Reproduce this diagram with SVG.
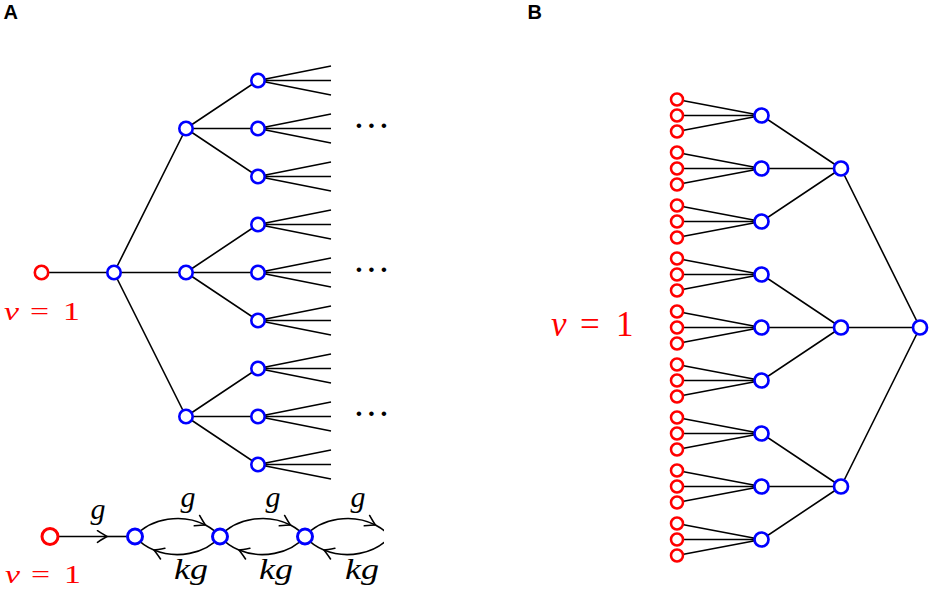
<svg xmlns="http://www.w3.org/2000/svg" width="935" height="596" viewBox="0 0 935 596">
<style>
.ln{fill:none;stroke:#000;stroke-width:1.6}
.rA{fill:#fff;stroke:#f00;stroke-width:2.6}
.bA{fill:#fff;stroke:#00f;stroke-width:2.6}
.rB{fill:#fff;stroke:#f00;stroke-width:2.5}
.bB{fill:#fff;stroke:#00f;stroke-width:2.7}
.rC{fill:#fff;stroke:#f00;stroke-width:3}
.bC{fill:#fff;stroke:#00f;stroke-width:3}
.lab{font-family:"Liberation Sans",Arial,sans-serif;font-weight:bold;font-size:20px;fill:#000}
.m{font-family:"Liberation Serif","Times New Roman",serif;font-style:italic;font-size:30px;fill:#000}
.v{font-family:"Liberation Serif","Times New Roman",serif;fill:#f00}
.dots{font-family:"Liberation Serif","Times New Roman",serif;font-size:28px;fill:#000;font-weight:bold}
</style>
<defs>
<marker id="arr" viewBox="-11 -7 13 14" markerWidth="13" markerHeight="14" refX="0" refY="0" orient="auto" markerUnits="userSpaceOnUse">
<path d="M-9.5,-5.8 Q-3,-1.5 0,0 Q-3,1.5 -9.5,5.8" fill="none" stroke="#000" stroke-width="1.6" stroke-linecap="round"/>
</marker>
<clipPath id="clipC"><rect x="0" y="480" width="384" height="116"/></clipPath>
</defs>

<text class="lab" x="3.5" y="19">A</text>
<text class="lab" x="527.5" y="18.5">B</text>

<g id="connectors">
<path class="ln" d="M41.5,272.5 H114 M114,272.5 L186,128.5 M114,272.5 H186 M114,272.5 L186,416.5
M186,128.5 L258,80.5 M186,128.5 H258 M186,128.5 L258,176.5
M186,272.5 L258,224.5 M186,272.5 H258 M186,272.5 L258,320.5
M186,416.5 L258,368.5 M186,416.5 H258 M186,416.5 L258,464.5"/>
<path class="ln" d="M258,80.5 L331,66 M258,80.5 H331 M258,80.5 L331,95
M258,128.5 L331,114 M258,128.5 H331 M258,128.5 L331,143
M258,176.5 L331,162 M258,176.5 H331 M258,176.5 L331,191
M258,224.5 L331,210 M258,224.5 H331 M258,224.5 L331,239
M258,272.5 L331,258 M258,272.5 H331 M258,272.5 L331,287
M258,320.5 L331,306 M258,320.5 H331 M258,320.5 L331,335
M258,368.5 L331,354 M258,368.5 H331 M258,368.5 L331,383
M258,416.5 L331,402 M258,416.5 H331 M258,416.5 L331,431
M258,464.5 L331,450 M258,464.5 H331 M258,464.5 L331,479"/>
<path class="ln" d="M677,99.5 L761.5,115.5 M677,115.5 H761.5 M677,131.5 L761.5,115.5
M677,152.5 L761.5,168.5 M677,168.5 H761.5 M677,184.5 L761.5,168.5
M677,205.5 L761.5,221.5 M677,221.5 H761.5 M677,237.5 L761.5,221.5
M677,258.5 L761.5,274.5 M677,274.5 H761.5 M677,290.5 L761.5,274.5
M677,311.5 L761.5,327.5 M677,327.5 H761.5 M677,343.5 L761.5,327.5
M677,364.5 L761.5,380.5 M677,380.5 H761.5 M677,396.5 L761.5,380.5
M677,417.5 L761.5,433.5 M677,433.5 H761.5 M677,449.5 L761.5,433.5
M677,470.5 L761.5,486.5 M677,486.5 H761.5 M677,502.5 L761.5,486.5
M677,523.5 L761.5,539.5 M677,539.5 H761.5 M677,555.5 L761.5,539.5"/>
<path class="ln" d="M761.5,115.5 L841,168.5 M761.5,168.5 H841 M761.5,221.5 L841,168.5
M761.5,274.5 L841,327.5 M761.5,327.5 H841 M761.5,380.5 L841,327.5
M761.5,433.5 L841,486.5 M761.5,486.5 H841 M761.5,539.5 L841,486.5
M841,168.5 L920,327.5 M841,327.5 H920 M841,486.5 L920,327.5"/>
<g clip-path="url(#clipC)">
<path class="ln" d="M50,536.5 H107" marker-end="url(#arr)"/>
<path class="ln" d="M107,536.5 H135"/>
<path class="ln" d="M135,536.5 c16,-19.2 48,-23.04 70.4,-11.52" marker-end="url(#arr)"/>
<path class="ln" d="M205.4,524.98 c5.6,2.88 10.6,6.72 14.6,11.52"/>
<path class="ln" d="M220,536.5 c-15,18 -44.06,22.5 -66.1,13.5" marker-end="url(#arr)"/>
<path class="ln" d="M153.9,550 c-7.34,-3 -13.9,-7.5 -18.9,-13.5"/>
<path class="ln" d="M220,536.5 c16,-19.2 48,-23.04 70.4,-11.52" marker-end="url(#arr)"/>
<path class="ln" d="M290.4,524.98 c5.6,2.88 10.6,6.72 14.6,11.52"/>
<path class="ln" d="M305,536.5 c-15,18 -44.06,22.5 -66.1,13.5" marker-end="url(#arr)"/>
<path class="ln" d="M238.9,550 c-7.34,-3 -13.9,-7.5 -18.9,-13.5"/>
<path class="ln" d="M305,536.5 c16,-19.2 48,-23.04 70.4,-11.52" marker-end="url(#arr)"/>
<path class="ln" d="M375.4,524.98 c5.6,2.88 10.6,6.72 14.6,11.52"/>
<path class="ln" d="M390,536.5 c-15,18 -44.06,22.5 -66.1,13.5" marker-end="url(#arr)"/>
<path class="ln" d="M323.9,550 c-7.34,-3 -13.9,-7.5 -18.9,-13.5"/>
</g>
</g>

<g id="treeA">
<g id="a0"><circle class="rA" cx="41.5" cy="272.5" r="6.7"/></g>
<g id="a1"><circle class="bA" cx="114" cy="272.5" r="6.7"/></g>
<g id="a2-0"><circle class="bA" cx="186" cy="128.5" r="6.7"/></g>
<g id="a2-1"><circle class="bA" cx="186" cy="272.5" r="6.7"/></g>
<g id="a2-2"><circle class="bA" cx="186" cy="416.5" r="6.7"/></g>
<g id="a3-0"><circle class="bA" cx="258" cy="80.5" r="6.7"/></g>
<g id="a3-1"><circle class="bA" cx="258" cy="128.5" r="6.7"/></g>
<g id="a3-2"><circle class="bA" cx="258" cy="176.5" r="6.7"/></g>
<g id="a3-3"><circle class="bA" cx="258" cy="224.5" r="6.7"/></g>
<g id="a3-4"><circle class="bA" cx="258" cy="272.5" r="6.7"/></g>
<g id="a3-5"><circle class="bA" cx="258" cy="320.5" r="6.7"/></g>
<g id="a3-6"><circle class="bA" cx="258" cy="368.5" r="6.7"/></g>
<g id="a3-7"><circle class="bA" cx="258" cy="416.5" r="6.7"/></g>
<g id="a3-8"><circle class="bA" cx="258" cy="464.5" r="6.7"/></g>
</g>
<text class="dots" x="359 371.5 384" y="134.5" text-anchor="middle">···</text>
<text class="dots" x="359 371.5 384" y="278.5" text-anchor="middle">···</text>
<text class="dots" x="359 371.5 384" y="422.5" text-anchor="middle">···</text>
<text class="v" font-size="26" transform="translate(4 320) scale(1.3 1)"><tspan font-style="italic">v</tspan><tspan x="20">=</tspan><tspan x="45.3">1</tspan></text>

<g id="chain">
<g id="c0"><circle class="rC" cx="50" cy="536.5" r="8"/></g>
<g id="c1"><circle class="bC" cx="135" cy="536.5" r="7.5"/></g>
<g id="c2"><circle class="bC" cx="220" cy="536.5" r="7.5"/></g>
<g id="c3"><circle class="bC" cx="305" cy="536.5" r="7.5"/></g>
</g>
<text class="m" x="98" y="518.5" text-anchor="middle">g</text>
<text class="m" x="188" y="506.5" text-anchor="middle">g</text>
<text class="m" x="273" y="506.5" text-anchor="middle">g</text>
<text class="m" x="358" y="506.5" text-anchor="middle">g</text>
<text class="m" x="174" y="579" textLength="34" lengthAdjust="spacingAndGlyphs">kg</text>
<text class="m" x="259" y="579" textLength="34" lengthAdjust="spacingAndGlyphs">kg</text>
<text class="m" x="345" y="579" textLength="34" lengthAdjust="spacingAndGlyphs">kg</text>
<text class="v" font-size="26" transform="translate(5 583) scale(1.3 1)"><tspan font-style="italic">v</tspan><tspan x="20">=</tspan><tspan x="45.3">1</tspan></text>

<g id="treeB">
<g id="b1-0"><circle class="bB" cx="761.5" cy="115.5" r="7"/></g>
<g id="b1-1"><circle class="bB" cx="761.5" cy="168.5" r="7"/></g>
<g id="b1-2"><circle class="bB" cx="761.5" cy="221.5" r="7"/></g>
<g id="b1-3"><circle class="bB" cx="761.5" cy="274.5" r="7"/></g>
<g id="b1-4"><circle class="bB" cx="761.5" cy="327.5" r="7"/></g>
<g id="b1-5"><circle class="bB" cx="761.5" cy="380.5" r="7"/></g>
<g id="b1-6"><circle class="bB" cx="761.5" cy="433.5" r="7"/></g>
<g id="b1-7"><circle class="bB" cx="761.5" cy="486.5" r="7"/></g>
<g id="b1-8"><circle class="bB" cx="761.5" cy="539.5" r="7"/></g>
<g id="b2-0"><circle class="bB" cx="841" cy="168.5" r="7"/></g>
<g id="b2-1"><circle class="bB" cx="841" cy="327.5" r="7"/></g>
<g id="b2-2"><circle class="bB" cx="841" cy="486.5" r="7"/></g>
<g id="b3"><circle class="bB" cx="920" cy="327.5" r="7"/></g>
<g id="r0-0"><circle class="rB" cx="677" cy="99.5" r="6"/></g>
<g id="r0-1"><circle class="rB" cx="677" cy="115.5" r="6"/></g>
<g id="r0-2"><circle class="rB" cx="677" cy="131.5" r="6"/></g>
<g id="r1-0"><circle class="rB" cx="677" cy="152.5" r="6"/></g>
<g id="r1-1"><circle class="rB" cx="677" cy="168.5" r="6"/></g>
<g id="r1-2"><circle class="rB" cx="677" cy="184.5" r="6"/></g>
<g id="r2-0"><circle class="rB" cx="677" cy="205.5" r="6"/></g>
<g id="r2-1"><circle class="rB" cx="677" cy="221.5" r="6"/></g>
<g id="r2-2"><circle class="rB" cx="677" cy="237.5" r="6"/></g>
<g id="r3-0"><circle class="rB" cx="677" cy="258.5" r="6"/></g>
<g id="r3-1"><circle class="rB" cx="677" cy="274.5" r="6"/></g>
<g id="r3-2"><circle class="rB" cx="677" cy="290.5" r="6"/></g>
<g id="r4-0"><circle class="rB" cx="677" cy="311.5" r="6"/></g>
<g id="r4-1"><circle class="rB" cx="677" cy="327.5" r="6"/></g>
<g id="r4-2"><circle class="rB" cx="677" cy="343.5" r="6"/></g>
<g id="r5-0"><circle class="rB" cx="677" cy="364.5" r="6"/></g>
<g id="r5-1"><circle class="rB" cx="677" cy="380.5" r="6"/></g>
<g id="r5-2"><circle class="rB" cx="677" cy="396.5" r="6"/></g>
<g id="r6-0"><circle class="rB" cx="677" cy="417.5" r="6"/></g>
<g id="r6-1"><circle class="rB" cx="677" cy="433.5" r="6"/></g>
<g id="r6-2"><circle class="rB" cx="677" cy="449.5" r="6"/></g>
<g id="r7-0"><circle class="rB" cx="677" cy="470.5" r="6"/></g>
<g id="r7-1"><circle class="rB" cx="677" cy="486.5" r="6"/></g>
<g id="r7-2"><circle class="rB" cx="677" cy="502.5" r="6"/></g>
<g id="r8-0"><circle class="rB" cx="677" cy="523.5" r="6"/></g>
<g id="r8-1"><circle class="rB" cx="677" cy="539.5" r="6"/></g>
<g id="r8-2"><circle class="rB" cx="677" cy="555.5" r="6"/></g>
</g>
<text class="v" font-size="35" x="551" y="336"><tspan font-style="italic">v</tspan><tspan x="580">=</tspan><tspan x="616">1</tspan></text>
</svg>
